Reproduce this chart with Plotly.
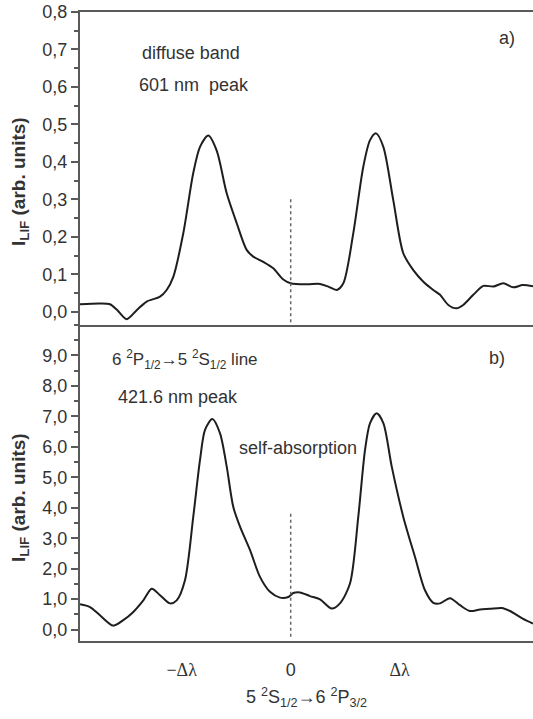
import plotly.graph_objects as go

# ---- data (x in units of Δλ) ----
top_x = [-1.933, -1.750, -1.658, -1.594, -1.505, -1.413, -1.321, -1.199, -1.138, -1.077,
         -0.985, -0.894, -0.832, -0.756, -0.679, -0.587, -0.495, -0.404, -0.343, -0.251,
         -0.160, -0.068, 0.0, 0.147, 0.269, 0.345, 0.422, 0.483, 0.574, 0.666,
         0.728, 0.783, 0.850, 0.941, 1.033, 1.125, 1.217, 1.308, 1.370, 1.446,
         1.523, 1.583, 1.675, 1.767, 1.859, 1.950, 2.042, 2.128, 2.223]
top_y = [0.020, 0.022, 0.020, 0.005, -0.020, 0.004, 0.027, 0.040, 0.058, 0.093,
         0.210, 0.370, 0.440, 0.470, 0.430, 0.316, 0.236, 0.165, 0.147, 0.133,
         0.116, 0.086, 0.076, 0.073, 0.074, 0.067, 0.058, 0.076, 0.209, 0.387,
         0.458, 0.476, 0.440, 0.298, 0.156, 0.111, 0.080, 0.058, 0.045, 0.018,
         0.009, 0.018, 0.045, 0.069, 0.067, 0.076, 0.065, 0.071, 0.068]

bot_x = [-1.933, -1.841, -1.750, -1.628, -1.536, -1.444, -1.352, -1.275, -1.199, -1.107,
         -1.046, -0.970, -0.894, -0.832, -0.786, -0.719, -0.649, -0.587, -0.527, -0.465,
         -0.373, -0.282, -0.190, -0.098, -0.022, 0.024, 0.085, 0.177, 0.269, 0.376,
         0.452, 0.544, 0.620, 0.682, 0.728, 0.789, 0.850, 0.927, 1.033, 1.140,
         1.232, 1.308, 1.370, 1.461, 1.553, 1.644, 1.737, 1.828, 1.936, 2.012,
         2.128, 2.223]
bot_y = [0.83, 0.74, 0.47, 0.13, 0.31, 0.58, 0.96, 1.34, 1.13, 0.86,
         0.96, 1.62, 3.70, 5.57, 6.56, 6.91, 6.45, 5.35, 4.03, 3.38,
         2.61, 1.73, 1.24, 1.05, 1.07, 1.20, 1.22, 1.10, 0.99, 0.69,
         0.86, 1.51, 3.70, 5.90, 6.78, 7.10, 6.78, 5.35, 3.70, 2.39,
         1.29, 0.88, 0.86, 1.03, 0.80, 0.61, 0.66, 0.68, 0.71, 0.61,
         0.36, 0.20]

marker_top_x = [0, 0]
marker_top_y = [0.30, -0.03]
marker_bot_x = [0, 0]
marker_bot_y = [3.8, -0.25]

x_tickvals = [-1, 0, 1]
x_ticktext = ["<span style=\"font-family:'Liberation Serif',serif\">−Δλ</span>", "0",
              "<span style=\"font-family:'Liberation Serif',serif\">Δλ</span>"]

FONT = "Liberation Sans, Arial, sans-serif"
TXT = "#333333"
AX = "#5a5a5a"
XR = [-1.933, 2.223]
SPLIT = 0.5024

fig = go.Figure()
fig.add_trace(go.Scatter(x=top_x, y=top_y, mode="lines", line=dict(color="#1e1e1e", width=2, shape="spline", smoothing=0.8),
                         xaxis="x", yaxis="y", showlegend=False))
fig.add_trace(go.Scatter(x=marker_top_x, y=marker_top_y, mode="lines", line=dict(color="#666666", width=1.5, dash="dot"),
                         xaxis="x", yaxis="y", showlegend=False))
fig.add_trace(go.Scatter(x=bot_x, y=bot_y, mode="lines", line=dict(color="#1e1e1e", width=2, shape="spline", smoothing=0.8),
                         xaxis="x2", yaxis="y2", showlegend=False))
fig.add_trace(go.Scatter(x=marker_bot_x, y=marker_bot_y, mode="lines", line=dict(color="#666666", width=1.5, dash="dot"),
                         xaxis="x2", yaxis="y2", showlegend=False))

fig.update_layout(
    width=533, height=719,
    margin=dict(l=80, r=0, t=12, b=78),
    paper_bgcolor="white", plot_bgcolor="white",
    separators=",.",
    font=dict(family=FONT, size=18, color=TXT),
    xaxis=dict(domain=[0, 1], anchor="y", range=XR, showline=True, mirror=True, linecolor=AX, linewidth=2,
               showticklabels=False, ticks="", showgrid=False, zeroline=False),
    yaxis=dict(domain=[SPLIT, 1], anchor="x", range=[-0.0355, 0.8], tickvals=[0, 0.1, 0.2, 0.3, 0.4, 0.5, 0.6, 0.7, 0.8],
               tickformat=".1f", showline=True, linecolor=AX, linewidth=2, ticks="outside", ticklen=7, tickwidth=1.5,
               tickcolor=AX, tickfont=dict(size=18, color=TXT),
               minor=dict(dtick=0.05, ticks="outside", ticklen=4, tickcolor=AX, tickwidth=1.5),
               showgrid=False, zeroline=False, automargin=False),
    yaxis3=dict(overlaying="y", side="right", anchor="x", range=[-0.0355, 0.8], tickvals=[0, 0.1, 0.2, 0.3, 0.4, 0.5, 0.6, 0.7, 0.8],
                showticklabels=False, ticks="inside", ticklen=7, tickwidth=1.5, tickcolor=AX,
                minor=dict(dtick=0.05, ticks="inside", ticklen=4, tickcolor=AX, tickwidth=1.5),
                showline=False, showgrid=False, zeroline=False),
    xaxis2=dict(domain=[0, 1], anchor="y2", range=XR, showline=True, linecolor=AX, linewidth=2,
                tickvals=x_tickvals, ticktext=x_ticktext, ticks="", ticklabelstandoff=11,
                tickfont=dict(size=18, color=TXT), showgrid=False, zeroline=False,
                title=dict(text="5 <sup>2</sup>S<sub>1/2</sub>→6 <sup>2</sup>P<sub>3/2</sub>", font=dict(size=18, color=TXT), standoff=12),
                automargin=False),
    yaxis2=dict(domain=[0, SPLIT], anchor="x2", range=[-0.375, 10.0], tickvals=list(range(0, 10)),
                tickformat=".1f", showline=True, linecolor=AX, linewidth=2, ticks="outside", ticklen=7, tickwidth=1.5,
                tickcolor=AX, tickfont=dict(size=18, color=TXT),
                minor=dict(dtick=0.5, ticks="outside", ticklen=4, tickcolor=AX, tickwidth=1.5),
                showgrid=False, zeroline=False, automargin=False),
    yaxis4=dict(overlaying="y2", side="right", anchor="x2", range=[-0.375, 10.0], tickvals=list(range(0, 10)),
                showticklabels=False, ticks="inside", ticklen=7, tickwidth=1.5, tickcolor=AX,
                minor=dict(dtick=0.5, ticks="inside", ticklen=4, tickcolor=AX, tickwidth=1.5),
                showline=False, showgrid=False, zeroline=False),
)

ann_font = dict(size=18, color=TXT, family=FONT)
annotations = [
    dict(text="diffuse band", x=-1.383, y=0.69, xref="x", yref="y"),
    dict(text="601 nm  peak", x=-1.41, y=0.604, xref="x", yref="y"),
    dict(text="a)", x=1.893, y=0.73, xref="x", yref="y"),
    dict(text="6 <sup>2</sup>P<sub>1/2</sub>→5 <sup>2</sup>S<sub>1/2</sub> line", x=-1.658, y=8.86, xref="x2", yref="y2",
         font=dict(size=17, color=TXT, family=FONT)),
    dict(text="421.6 nm peak", x=-1.603, y=7.64, xref="x2", yref="y2"),
    dict(text="self-absorption", x=-0.493, y=5.96, xref="x2", yref="y2"),
    dict(text="b)", x=1.80, y=8.92, xref="x2", yref="y2"),
]
for a in annotations:
    f = a.pop("font", ann_font)
    fig.add_annotation(showarrow=False, xanchor="left", yanchor="middle", font=f, **a)

# y-axis titles (one per panel)
ytitle_text = "<b>I<sub>LIF</sub> (arb. units)</b>"
for yc in (0.7313, 0.2289):
    fig.add_annotation(text=ytitle_text, xref="paper", yref="paper", x=-0.1325, y=yc,
                       textangle=-90, showarrow=False, xanchor="center", yanchor="middle",
                       font=dict(size=19, color=TXT, family=FONT))

fig.write_html("out.html", config={"displayModeBar": False},
               post_script="document.body.style.margin='0';document.body.style.overflow='hidden';")
